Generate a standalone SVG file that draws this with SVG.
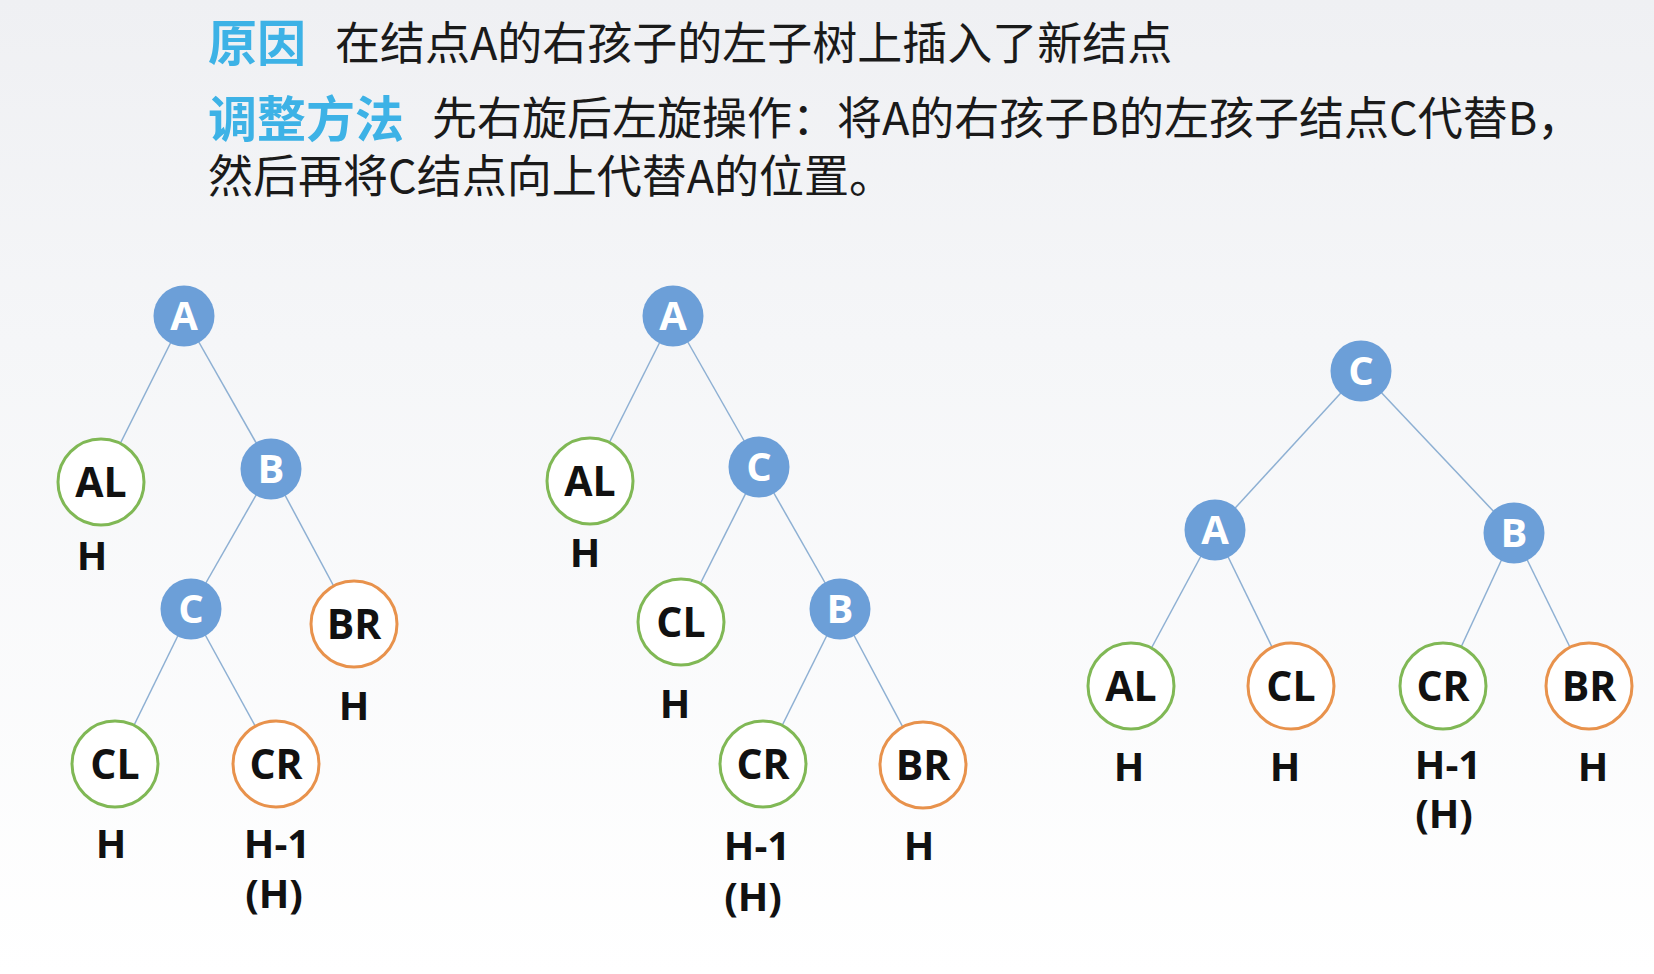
<svg xmlns="http://www.w3.org/2000/svg" width="1654" height="974" viewBox="0 0 1654 974">
<defs>
<linearGradient id="bg" x1="0" y1="0" x2="0" y2="1">
<stop offset="0" stop-color="#eff0f3"/>
<stop offset="0.35" stop-color="#f5f6f8"/>
<stop offset="1" stop-color="#ffffff"/>
</linearGradient>
<style>
.hd{font-family:"Noto Sans CJK SC","Noto Sans",sans-serif;}
.key{font-size:49px;font-weight:bold;fill:#3db2e6;}
.body{font-size:45px;fill:#1a1a1a;}
.edge{stroke:#8eb0d3;stroke-width:1.5;fill:none;}
.bn{fill:#6c9fd8;}
.bt{font-family:"Open Sans","Liberation Sans",sans-serif;font-weight:bold;font-size:40px;fill:#ffffff;text-anchor:middle;}
.gn{fill:#ffffff;stroke:#80b855;stroke-width:3;}
.on{fill:#ffffff;stroke:#e8924c;stroke-width:3;}
.nt{font-family:"Open Sans","Liberation Sans",sans-serif;font-weight:bold;font-size:41px;fill:#111111;text-anchor:middle;}
.ht{font-family:"Open Sans","Liberation Sans",sans-serif;font-weight:bold;font-size:40px;fill:#111111;text-anchor:middle;}
</style>
</defs>
<rect width="1654" height="974" fill="url(#bg)"/>
<g id="header" class="hd">
<text class="key" x="208" y="61">原因</text>
<text class="body" x="335" y="60">在结点A的右孩子的左子树上插入了新结点</text>
<text class="key" x="208" y="137">调整方法</text>
<text class="body" x="432" y="135">先右旋后左旋操作：将A的右孩子B的左孩子结点C代替B，</text>
<text class="body" x="208" y="193">然后再将C结点向上代替A的位置。</text>
</g>
<g id="connectors">
<line class="edge" x1="184" y1="316" x2="101" y2="482"/>
<line class="edge" x1="184" y1="316" x2="271" y2="469"/>
<line class="edge" x1="271" y1="469" x2="191" y2="609"/>
<line class="edge" x1="271" y1="469" x2="354" y2="624"/>
<line class="edge" x1="191" y1="609" x2="115" y2="764"/>
<line class="edge" x1="191" y1="609" x2="276" y2="764"/>
<line class="edge" x1="673" y1="316" x2="590" y2="481"/>
<line class="edge" x1="673" y1="316" x2="759" y2="467"/>
<line class="edge" x1="759" y1="467" x2="681" y2="622"/>
<line class="edge" x1="759" y1="467" x2="840" y2="609"/>
<line class="edge" x1="840" y1="609" x2="763" y2="764"/>
<line class="edge" x1="840" y1="609" x2="923" y2="765"/>
<line class="edge" x1="1361" y1="371" x2="1215" y2="530"/>
<line class="edge" x1="1361" y1="371" x2="1514" y2="533"/>
<line class="edge" x1="1215" y1="530" x2="1131" y2="686"/>
<line class="edge" x1="1215" y1="530" x2="1291" y2="686"/>
<line class="edge" x1="1514" y1="533" x2="1443" y2="686"/>
<line class="edge" x1="1514" y1="533" x2="1589" y2="686"/>
</g>
<g id="t1-A"><circle class="bn" cx="184" cy="316" r="30.5"/><text class="bt" x="184" y="330">A</text></g>
<g id="t1-AL"><circle class="gn" cx="101" cy="482" r="43"/><text class="nt" x="101" y="497">AL</text><text class="ht" x="92" y="570">H</text></g>
<g id="t1-B"><circle class="bn" cx="271" cy="469" r="30.5"/><text class="bt" x="271" y="483">B</text></g>
<g id="t1-C"><circle class="bn" cx="191" cy="609" r="30.5"/><text class="bt" x="191" y="623">C</text></g>
<g id="t1-BR"><circle class="on" cx="354" cy="624" r="43"/><text class="nt" x="354" y="639">BR</text><text class="ht" x="354" y="720">H</text></g>
<g id="t1-CL"><circle class="gn" cx="115" cy="764" r="43"/><text class="nt" x="115" y="779">CL</text><text class="ht" x="111" y="858">H</text></g>
<g id="t1-CR"><circle class="on" cx="276" cy="764" r="43"/><text class="nt" x="276" y="779">CR</text><text class="ht" x="277" y="858">H-1</text><text class="ht" x="274" y="908">(H)</text></g>

<g id="t2-A"><circle class="bn" cx="673" cy="316" r="30.5"/><text class="bt" x="673" y="330">A</text></g>
<g id="t2-AL"><circle class="gn" cx="590" cy="481" r="43"/><text class="nt" x="590" y="496">AL</text><text class="ht" x="585" y="567">H</text></g>
<g id="t2-C"><circle class="bn" cx="759" cy="467" r="30.5"/><text class="bt" x="759" y="481">C</text></g>
<g id="t2-CL"><circle class="gn" cx="681" cy="622" r="43"/><text class="nt" x="681" y="637">CL</text><text class="ht" x="675" y="718">H</text></g>
<g id="t2-B"><circle class="bn" cx="840" cy="609" r="30.5"/><text class="bt" x="840" y="623">B</text></g>
<g id="t2-CR"><circle class="gn" cx="763" cy="764" r="43"/><text class="nt" x="763" y="779">CR</text><text class="ht" x="757" y="860">H-1</text><text class="ht" x="753" y="911">(H)</text></g>
<g id="t2-BR"><circle class="on" cx="923" cy="765" r="43"/><text class="nt" x="923" y="780">BR</text><text class="ht" x="919" y="860">H</text></g>

<g id="t3-C"><circle class="bn" cx="1361" cy="371" r="30.5"/><text class="bt" x="1361" y="385">C</text></g>
<g id="t3-A"><circle class="bn" cx="1215" cy="530" r="30.5"/><text class="bt" x="1215" y="544">A</text></g>
<g id="t3-B"><circle class="bn" cx="1514" cy="533" r="30.5"/><text class="bt" x="1514" y="547">B</text></g>
<g id="t3-AL"><circle class="gn" cx="1131" cy="686" r="43"/><text class="nt" x="1131" y="701">AL</text><text class="ht" x="1129" y="781">H</text></g>
<g id="t3-CL"><circle class="on" cx="1291" cy="686" r="43"/><text class="nt" x="1291" y="701">CL</text><text class="ht" x="1285" y="781">H</text></g>
<g id="t3-CR"><circle class="gn" cx="1443" cy="686" r="43"/><text class="nt" x="1443" y="701">CR</text><text class="ht" x="1448" y="779">H-1</text><text class="ht" x="1444" y="828">(H)</text></g>
<g id="t3-BR"><circle class="on" cx="1589" cy="686" r="43"/><text class="nt" x="1589" y="701">BR</text><text class="ht" x="1593" y="781">H</text></g>
</svg>
